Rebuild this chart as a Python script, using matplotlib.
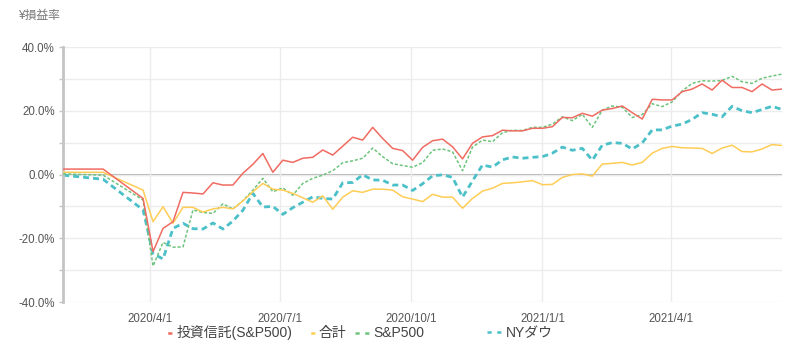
import pandas as pd
import matplotlib
matplotlib.use("Agg")
import matplotlib.pyplot as plt
import matplotlib.dates as mdates
from matplotlib.lines import Line2D
from matplotlib.ticker import MultipleLocator, FuncFormatter

plt.rcParams['font.family'] = ['Liberation Sans', 'Noto Sans CJK JP', 'DejaVu Sans']
plt.rcParams['lines.scale_dashes'] = False

# dates: two monthly points, then weekly (Fridays)
dates = [pd.Timestamp('2020-01-31'), pd.Timestamp('2020-02-28')] + \
    list(pd.date_range('2020-03-27', '2021-06-18', freq='7D'))

# 損益率 (%)
toushin = [1.7, 1.7,
           -7.5, -24.2, -16.9, -14.8, -5.6, -5.8, -6.1, -2.6, -3.3, -3.3,
           0.4, 3.2, 6.6, 0.7, 4.5, 3.8, 5.1, 5.4, 7.7, 6.1,
           8.9, 11.7, 10.8, 14.8, 11.3, 8.2, 7.5, 4.5, 8.5, 10.6,
           11.1, 8.7, 4.9, 9.8, 11.8, 12.2, 13.9, 13.7, 13.7, 14.5,
           14.5, 15.0, 17.9, 17.8, 19.2, 18.3, 20.2, 20.7, 21.5, 19.4,
           17.4, 23.6, 23.4, 23.4, 26.0, 26.8, 28.4, 26.5, 29.6, 27.3,
           27.3, 26.0, 28.4, 26.5, 26.8]
goukei = [0.7, 0.7,
          -4.9, -14.8, -10.1, -15.3, -10.3, -10.3, -11.8, -10.8, -10.3, -10.8,
          -8.3, -5.4, -2.8, -4.6, -4.9, -5.9, -7.3, -8.7, -6.7, -10.9,
          -7.1, -5.1, -5.6, -4.6, -4.6, -4.9, -7.0, -7.7, -8.5, -6.2,
          -7.1, -7.1, -10.6, -7.5, -5.2, -4.3, -2.8, -2.6, -2.3, -1.9,
          -3.2, -3.1, -0.9, 0.0, 0.2, -0.5, 3.3, 3.5, 3.8, 3.0,
          3.8, 6.7, 8.2, 8.8, 8.4, 8.3, 8.2, 6.6, 8.3, 9.2,
          7.2, 7.1, 8.0, 9.4, 9.1]
sp500 = [0.2, -0.2,
         -8.0, -28.7, -21.3, -22.8, -22.7, -11.1, -11.9, -12.2, -9.2, -10.8,
         -8.2, -4.9, -1.2, -5.4, -4.2, -6.5, -2.8, -1.2, -0.2, 1.2,
         3.7, 4.3, 5.1, 8.3, 5.6, 3.4, 2.8, 2.3, 3.7, 7.6,
         8.0, 7.1, 1.2, 8.6, 10.8, 10.3, 13.1, 13.9, 13.8, 14.8,
         14.8, 15.8, 18.1, 16.9, 18.9, 14.8, 20.2, 21.5, 21.1, 17.9,
         18.8, 22.2, 21.3, 22.8, 26.2, 28.6, 29.4, 29.3, 29.5, 30.8,
         29.1, 28.6, 30.2, 30.9, 31.5]
nydow = [-0.2, -1.5,
         -11.1, -24.8, -26.5, -16.9, -15.3, -17.0, -17.1, -15.2, -17.1, -14.6,
         -11.2, -5.9, -10.2, -10.0, -12.5, -10.4, -8.7, -7.0, -7.5, -7.7,
         -2.6, -2.5, -0.1, -1.7, -1.8, -3.3, -3.3, -5.0, -2.9, -0.4,
         -0.1, -0.9, -7.1, -2.0, 3.0, 2.3, 4.6, 5.5, 5.1, 5.4,
         5.6, 6.7, 8.6, 7.6, 8.2, 4.5, 9.2, 10.0, 9.8, 8.0,
         9.9, 14.0, 14.0, 15.2, 15.8, 17.3, 19.4, 18.9, 18.1, 21.4,
         20.0, 19.4, 20.4, 21.4, 20.4]

labels = ['投資信託(S&P500)', '合計', 'S&P500', 'NYダウ']
tick_dates = ['2020-04-01', '2020-07-01', '2020-10-01', '2021-01-01', '2021-04-01']

c_red = '#f06b62'
c_yel = '#ffcd56'
c_grn = '#6cc47c'
c_teal = '#4bc0c8'

fig = plt.figure(figsize=(8, 3.63), dpi=100)
ax = fig.add_axes([0.079, 0.168, 0.8985, 0.7025])

ax.plot(dates, toushin, color=c_red, lw=1.1, zorder=5)
ax.plot(dates, goukei, color=c_yel, lw=1.1, zorder=4)
ax.plot(dates, sp500, color=c_grn, lw=1.1, dashes=(2.2, 1.4), zorder=3)
ax.plot(dates, nydow, color=c_teal, lw=2.0, dashes=(4.3, 2.9), zorder=2)

ax.set_xlim(pd.Timestamp('2020-01-31'), pd.Timestamp('2021-06-18'))
ax.set_ylim(-40, 40)

ax.yaxis.set_major_locator(MultipleLocator(20))
ax.yaxis.set_minor_locator(MultipleLocator(10))
ax.yaxis.set_major_formatter(FuncFormatter(lambda v, p: f'{v:.1f}%'))
ax.set_xticks([pd.Timestamp(d) for d in tick_dates])
ax.xaxis.set_major_formatter(FuncFormatter(
    lambda v, p: (lambda d: f'{d.year}/{d.month}/{d.day}')(mdates.num2date(v))))

ax.grid(True, which='both', axis='y', color='#ececec', lw=1.0, zorder=0)
ax.grid(True, which='major', axis='x', color='#ececec', lw=1.0, zorder=0)
ax.axhline(0, color='#b4b4b4', lw=1.5, zorder=1)

for s in ['top', 'right', 'bottom']:
    ax.spines[s].set_visible(False)
ax.spines['left'].set_color('#c4c4c4')
ax.spines['left'].set_linewidth(2.0)

ax.tick_params(axis='y', which='both', length=3, color='#c4c4c4', width=1,
               labelsize=8.3, labelcolor='#555555', pad=3)
ax.tick_params(axis='x', length=0, labelsize=8.3, labelcolor='#555555', pad=8)

fig.text(0.022, 0.955, '¥損益率', fontsize=8.5, color='#777777', ha='left', va='center')

h1 = [Line2D([], [], color=c_red, lw=1.8, linestyle=(3, (3, 7))),
      Line2D([], [], color=c_yel, lw=1.8, linestyle=(3, (3, 7))),
      Line2D([], [], color=c_grn, lw=1.8, linestyle=(0, (3, 4)))]
h2 = [Line2D([], [], color=c_teal, lw=1.8, linestyle=(0, (3, 4)))]
kw = dict(frameon=False, handlelength=1.0, handletextpad=0.3, columnspacing=0.6,
          fontsize=10, labelcolor='#444444', borderaxespad=0, borderpad=0)
fig.legend(h1, labels[:3], loc='center', bbox_to_anchor=(0.364, 0.083), ncol=3, **kw)
fig.legend(h2, labels[3:], loc='center', bbox_to_anchor=(0.65, 0.083), ncol=1, **kw)

fig.savefig('out.png', dpi=100)
